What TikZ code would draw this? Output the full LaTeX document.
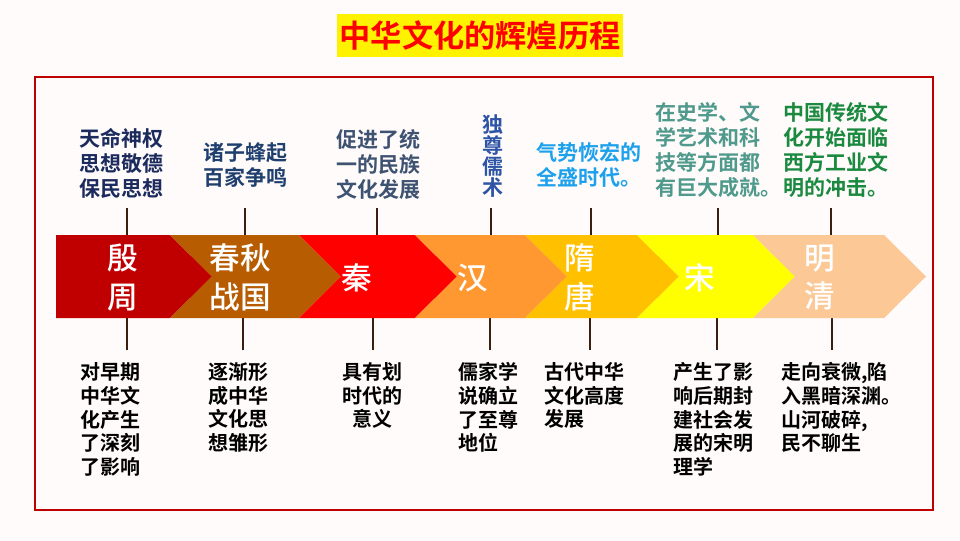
\documentclass[tikz,border=0pt]{standalone}
\usepackage{fontspec}
\setmainfont{Noto Sans CJK SC}
\newfontfamily\heiti{Noto Sans CJK SC Bold}
\newfontfamily\zhongti{Noto Sans CJK SC Medium}
\usepackage{tikz}

% 颜色
\definecolor{bgtop}{HTML}{FFFBFA}
\definecolor{bgmid}{HTML}{FBECE4}
\definecolor{framered}{HTML}{C00000}
\definecolor{tickbrown}{HTML}{3C1E10}
\definecolor{c-yinzhou}{HTML}{C00000}
\definecolor{c-chunqiu}{HTML}{B75C00}
\definecolor{c-qin}{HTML}{FF0000}
\definecolor{c-han}{HTML}{FF9830}
\definecolor{c-suitang}{HTML}{FFC000}
\definecolor{c-song}{HTML}{FFFF00}
\definecolor{c-mingqing}{HTML}{FBC896}
\definecolor{up-yinzhou}{HTML}{1C2B5E}
\definecolor{up-chunqiu}{HTML}{1F3F6E}
\definecolor{up-qin}{HTML}{3E5272}
\definecolor{up-han}{HTML}{2E55A5}
\definecolor{up-suitang}{HTML}{1DA1EC}
\definecolor{up-song}{HTML}{4F9A8C}
\definecolor{up-mingqing}{HTML}{1B8A40}

\begin{document}
\begin{tikzpicture}[x=0.75pt, y=-0.75pt,
    period/.style={text=white, font=\zhongti\fontsize{23}{29}\selectfont, align=center, inner sep=0pt},
    upnote/.style={font=\heiti\fontsize{15.75}{18.75}\selectfont, align=center, inner sep=0pt},
    downnote/.style={font=\heiti\fontsize{15}{17.8}\selectfont, align=left, anchor=west, inner sep=0pt},
    tick/.style={draw=tickbrown, line width=1.5pt}]
				% 背景
				\useasboundingbox (0,0) rectangle (960,540);
				\shade[top color=bgtop, middle color=bgmid, bottom color=bgtop] (0,0) rectangle (960,540);
				
				% 外框
				\draw[framered, line width=1.6pt] (35,77) rectangle (933,510);
				
				% 标题
				\node[fill=yellow, text=red, font=\heiti\fontsize{23.4}{28}\selectfont,
				      minimum width=214.5pt, minimum height=32.25pt, inner sep=0pt] (title) at (480,35.5) {中华文化的辉煌历程};
				
				% 刻度线
				\coordinate (bandtop) at (0,235);
				\coordinate (bandbot) at (0,318);
				\coordinate (t1) at (127,208); \coordinate (b1) at (127,350);
				\coordinate (t2) at (245,208); \coordinate (b2) at (243,350);
				\coordinate (t3) at (377,208); \coordinate (b3) at (373,350);
				\coordinate (t4) at (491,208); \coordinate (b4) at (490,350);
				\coordinate (t5) at (591,208); \coordinate (b5) at (590,350);
				\coordinate (t6) at (718,208); \coordinate (b6) at (717,350);
				\coordinate (t7) at (831,208); \coordinate (b7) at (832,350);
				\draw[tick] (t1) -- (t1 |- bandtop); \draw[tick] (b1) -- (b1 |- bandbot);
				\draw[tick] (t2) -- (t2 |- bandtop); \draw[tick] (b2) -- (b2 |- bandbot);
				\draw[tick] (t3) -- (t3 |- bandtop); \draw[tick] (b3) -- (b3 |- bandbot);
				\draw[tick] (t4) -- (t4 |- bandtop); \draw[tick] (b4) -- (b4 |- bandbot);
				\draw[tick] (t5) -- (t5 |- bandtop); \draw[tick] (b5) -- (b5 |- bandbot);
				\draw[tick] (t6) -- (t6 |- bandtop); \draw[tick] (b6) -- (b6 |- bandbot);
				\draw[tick] (t7) -- (t7 |- bandtop); \draw[tick] (b7) -- (b7 |- bandbot);
				
				% 箭头色带
				\fill[c-yinzhou] (56,235) -- (170,235) -- (212,276.5) -- (170,318) -- (56,318) -- cycle;
				\fill[c-chunqiu] (170,235) -- (299,235) -- (341,276.5) -- (299,318) -- (170,318) -- (212,276.5) -- cycle;
				\fill[c-qin] (299,235) -- (415,235) -- (457,276.5) -- (415,318) -- (299,318) -- (341,276.5) -- cycle;
				\fill[c-han] (415,235) -- (525,235) -- (567,276.5) -- (525,318) -- (415,318) -- (457,276.5) -- cycle;
				\fill[c-suitang] (525,235) -- (637,235) -- (679,276.5) -- (637,318) -- (525,318) -- (567,276.5) -- cycle;
				\fill[c-song] (637,235) -- (753,235) -- (795,276.5) -- (753,318) -- (637,318) -- (679,276.5) -- cycle;
				\fill[c-mingqing] (753,235) -- (884,235) -- (926,276.5) -- (884,318) -- (753,318) -- (795,276.5) -- cycle;
				
				% 朝代
				\node[period] (yinzhou) at (123,277.5) {殷\\周};
				\node[period] (chunqiu) at (240,277.5) {春秋\\战国};
				\node[period] (qin) at (357,278) {秦};
				\node[period] (han) at (473,278) {汉};
				\node[period] (suitang) at (580,277.5) {隋\\唐};
				\node[period] (song) at (700,278) {宋};
				\node[period] (mingqing) at (820,277.5) {明\\清};
				
				% 上方说明
				\node[upnote, text=up-yinzhou] (yinzhou-up) at (121.5,163) {天命神权\\思想敬德\\保民思想};
				\node[upnote, text=up-chunqiu] (chunqiu-up) at (245,165) {诸子蜂起\\百家争鸣};
				\node[upnote, text=up-qin] (qin-up) at (378,164) {促进了统\\一的民族\\文化发展};
				\node[upnote, text=up-han, font=\heiti\fontsize{15.75}{15.75}\selectfont] (han-up) at (493,156) {独\\尊\\儒\\术};
				\node[upnote, text=up-suitang, align=left, anchor=west] (suitang-up) at (536,164.5) {气势恢宏的\\全盛时代。};
				\node[upnote, text=up-song, align=left, anchor=west] (song-up) at (655,150) {在史学、文\\学艺术和科\\技等方面都\\有巨大成就。};
				\node[upnote, text=up-mingqing, align=left, anchor=west] (mingqing-up) at (783,150) {中国传统文\\化开始面临\\西方工业文\\明的冲击。};
				
				% 下方说明
				\node[downnote] (yinzhou-down) at (80,419.5) {对早期\\中华文\\化产生\\了深刻\\了影响};
				\node[downnote] (chunqiu-down) at (208,407.5) {逐渐形\\成中华\\文化思\\想雏形};
				\node[downnote, align=center, anchor=center] (qin-down) at (372.5,395.5) {具有划\\时代的\\意义};
				\node[downnote] (han-down) at (458,407.5) {儒家学\\说确立\\了至尊\\地位};
				\node[downnote] (suitang-down) at (544,395.5) {古代中华\\文化高度\\发展};
				\node[downnote] (song-down) at (673,419.5) {产生了影\\响后期封\\建社会发\\展的宋明\\理学};
				\node[downnote] (mingqing-down) at (781,407.5) {走向衰微,陷\\入黑暗深渊。\\山河破碎,\\民不聊生};
			\end{tikzpicture}
\end{document}
